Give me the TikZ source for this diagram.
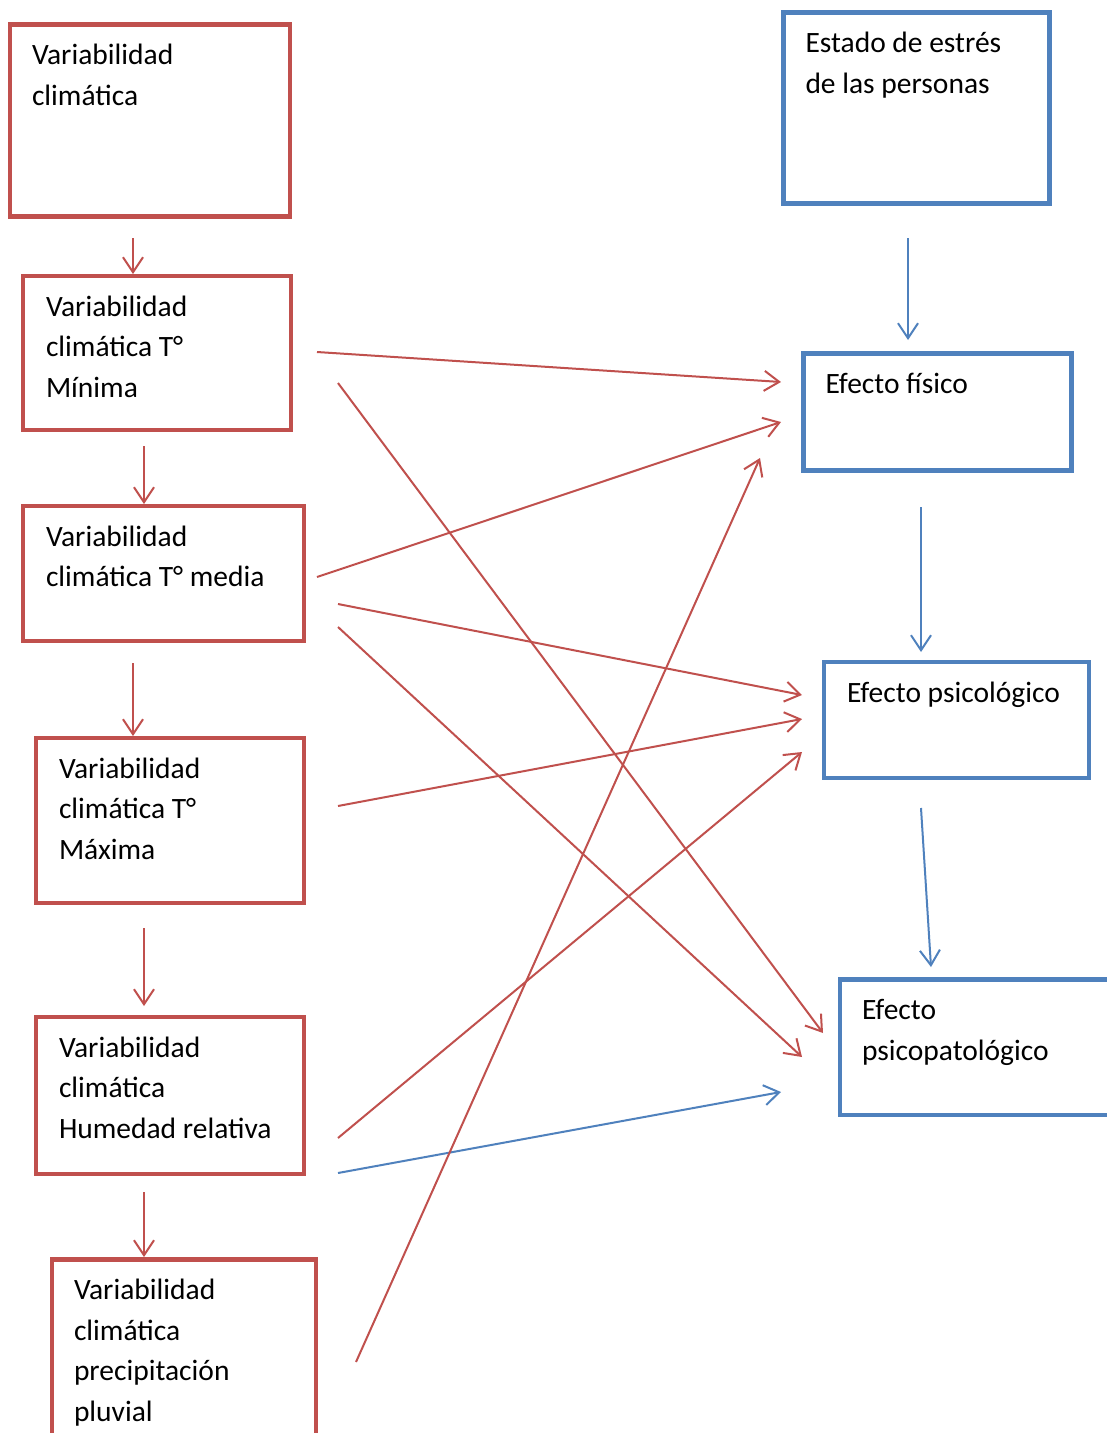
\documentclass[tikz,border=0pt]{standalone}
\usepackage{fontspec}
\setmainfont{Carlito}
\usetikzlibrary{arrows.meta,calc}
\definecolor{cred}{HTML}{C0504D}
\definecolor{cblue}{HTML}{4F81BD}
\begin{document}
\begin{tikzpicture}[x=1pt,y=-1pt,
  boxr/.style={draw=cred,line width=4.5pt,rectangle,inner sep=0pt,outer sep=0pt,anchor=north west},
  boxb/.style={draw=cblue,line width=4.5pt,rectangle,inner sep=0pt,outer sep=0pt,anchor=north west},
  txt/.style={anchor=north west,inner sep=0pt,outer sep=0pt,align=left,font=\fontsize{29.5}{40.5}\selectfont},
  arr/.style={line width=2pt,-{Straight Barb[length=15pt,width=20pt,line width=2pt]}},
  ra/.style={arr,draw=cred},
  ba/.style={arr,draw=cblue}]
\useasboundingbox (0,0) rectangle (1107,1433);
\clip (0,0) rectangle (1107,1433);
\fill[white] (0,0) rectangle (1107,1433);
% left boxes
\node[boxr,minimum width=280pt,minimum height=192pt] (vc) at (10,24.5) {};
\node[boxr,minimum width=268pt,minimum height=154pt] (tmin) at (23,276) {};
\node[boxr,minimum width=281pt,minimum height=135pt] (tmed) at (23,506) {};
\node[boxr,minimum width=268pt,minimum height=165pt] (tmax) at (36,738) {};
\node[boxr,minimum width=268pt,minimum height=157pt] (hr) at (36,1017) {};
\node[boxr,minimum width=264pt,minimum height=220pt] (pp) at (52,1259.5) {};
% right boxes
\node[boxb,minimum width=266pt,minimum height=191pt] (est) at (783.5,12.5) {};
\node[boxb,minimum width=268pt,minimum height=117pt] (fis) at (803.5,353.5) {};
\node[boxb,minimum width=265pt,minimum height=116pt] (psi) at (824,662) {};
\node[boxb,minimum width=300pt,minimum height=135.5pt] (pat) at (840,979.5) {};
% texts
\node[txt] at ($(vc.north west)+(22,10)$) {\rule{0pt}{30pt}Variabilidad\\climática};
\node[txt] at ($(tmin.north west)+(23,10)$) {\rule{0pt}{30pt}Variabilidad\\climática T°\\Mínima};
\node[txt] at ($(tmed.north west)+(23,10)$) {\rule{0pt}{30pt}Variabilidad\\climática T° media};
\node[txt] at ($(tmax.north west)+(23,10)$) {\rule{0pt}{30pt}Variabilidad\\climática T°\\Máxima};
\node[txt] at ($(hr.north west)+(23,10)$) {\rule{0pt}{30pt}Variabilidad\\climática\\Humedad relativa};
\node[txt] at ($(pp.north west)+(22,10)$) {\rule{0pt}{30pt}Variabilidad\\climática\\precipitación\\pluvial};
\node[txt] at ($(est.north west)+(22,10)$) {\rule{0pt}{30pt}Estado de estrés\\de las personas};
\node[txt] at ($(fis.north west)+(22,10)$) {\rule{0pt}{30pt}Efecto físico};
\node[txt] at ($(psi.north west)+(23,10)$) {\rule{0pt}{30pt}Efecto psicológico};
\node[txt] at ($(pat.north west)+(22,10)$) {\rule{0pt}{30pt}Efecto\\psicopatológico};
% free ends
\coordinate (s1) at (133,238);  \coordinate (e1) at (133,274);
\coordinate (s2) at (144,446);  \coordinate (e2) at (144,504);
\coordinate (s3) at (133,663);  \coordinate (e3) at (133,736);
\coordinate (s4) at (144,928);  \coordinate (e4) at (144,1006);
\coordinate (s5) at (144,1192); \coordinate (e5) at (144,1257);
\coordinate (s6) at (908,238);  \coordinate (e6) at (908,340);
\coordinate (s7) at (921,507);  \coordinate (e7) at (921,652);
\coordinate (s8) at (921,808);  \coordinate (e8) at (931,967);
\coordinate (s9) at (338,1173); \coordinate (e9) at (781,1092);
\coordinate (a1) at (317,352);  \coordinate (b1) at (781,382);
\coordinate (a2) at (338,383);  \coordinate (b2) at (823,1033);
\coordinate (a3) at (317,577);  \coordinate (b3) at (781,422);
\coordinate (a4) at (338,604);  \coordinate (b4) at (802,695);
\coordinate (a5) at (338,627);  \coordinate (b5) at (802,1057);
\coordinate (a6) at (338,806);  \coordinate (b6) at (802,719);
\coordinate (a7) at (338,1138); \coordinate (b7) at (802,752);
\coordinate (a8) at (356,1362); \coordinate (b8) at (760,458);
% vertical chain
\draw[ra] (s1) -- (e1);
\draw[ra] (s2) -- (e2);
\draw[ra] (s3) -- (e3);
\draw[ra] (s4) -- (e4);
\draw[ra] (s5) -- (e5);
\draw[ba] (s6) -- (e6);
\draw[ba] (s7) -- (e7);
\draw[ba] (s8) -- (e8);
\draw[ba] (s9) -- (e9);
% diagonals
\draw[ra] (a1) -- (b1);
\draw[ra] (a2) -- (b2);
\draw[ra] (a3) -- (b3);
\draw[ra] (a4) -- (b4);
\draw[ra] (a5) -- (b5);
\draw[ra] (a6) -- (b6);
\draw[ra] (a7) -- (b7);
\draw[ra] (a8) -- (b8);
\end{tikzpicture}
\end{document}
